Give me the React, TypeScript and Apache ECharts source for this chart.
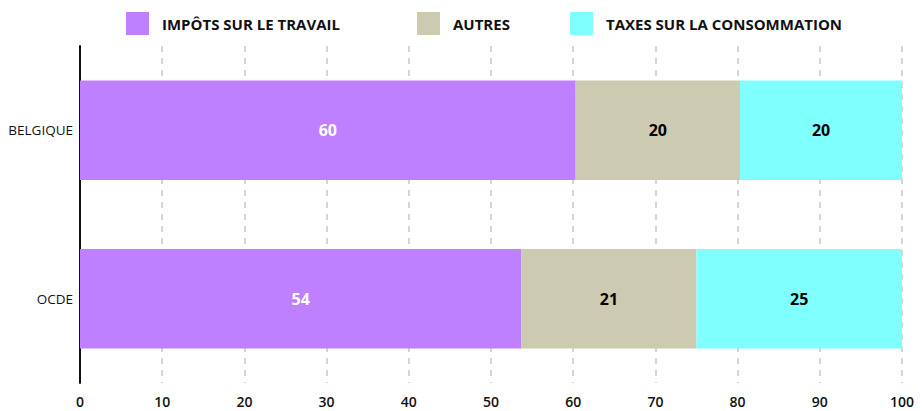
import React, { useEffect, useRef } from "react";
import * as echarts from "echarts";

const categories = ["BELGIQUE", "OCDE"];
const seriesNames = ["IMPÔTS SUR LE TRAVAIL", "AUTRES", "TAXES SUR LA CONSOMMATION"];
const travail = [60.3, 53.7];
const autres = [20, 21.3];
const consommation = [19.7, 25];
const travailLabels = [60, 54];
const autresLabels = [20, 21];
const consommationLabels = [20, 25];
const colors = ["#bf80ff", "#cccbb2", "#80ffff"];

export default function App() {
  const ref = useRef<HTMLDivElement>(null);
  useEffect(() => {
    if (!ref.current) return;
    const chart = echarts.init(ref.current, null, { renderer: "svg" });
    const font = "'Open Sans', sans-serif";
    const mkSeries = (name: string, data: number[], labels: number[], color: string, labelColor: string) => ({
      name,
      type: "bar",
      stack: "total",
      data,
      barWidth: "59%",
      itemStyle: { color },
      label: {
        show: true,
        position: "inside",
        formatter: (p: any) => String(labels[p.dataIndex]),
        color: labelColor,
        fontFamily: font,
        fontWeight: "bold",
        fontSize: 16,
      },
    });
    const legendCommon = {
      top: 12,
      padding: 0,
      icon: "rect",
      itemWidth: 23,
      itemHeight: 23,
      itemGap: 14,
      textStyle: { fontFamily: font, fontWeight: "bold", fontSize: 15, color: "#111", padding: [0, 0, 0, 8] },
      selectedMode: false,
    };
    chart.setOption({
      animation: false,
      legend: [
        { ...legendCommon, left: 126, data: [seriesNames[0]] },
        { ...legendCommon, left: 417, data: [seriesNames[1]] },
        { ...legendCommon, left: 570, data: [seriesNames[2]] },
      ],
      grid: { left: 80, right: 20, top: 46, bottom: 28, containLabel: false },
      xAxis: {
        type: "value",
        min: 0,
        max: 100,
        interval: 10,
        axisLine: { show: false },
        axisTick: { show: false },
        splitLine: { show: true, lineStyle: { color: "#c8c8c8", type: [6, 6], width: 1.5 } },
        axisLabel: { color: "#111", fontFamily: font, fontWeight: 600, fontSize: 14, margin: 11 },
      },
      yAxis: {
        type: "category",
        data: categories,
        inverse: true,
        axisLine: { show: true, lineStyle: { color: "#111", width: 2 } },
        axisTick: { show: false },
        axisLabel: { color: "#111", fontFamily: font, fontWeight: 500, fontSize: 13.5, margin: 7 },
      },
      series: [
        mkSeries(seriesNames[0], travail, travailLabels, colors[0], "#ffffff"),
        mkSeries(seriesNames[1], autres, autresLabels, colors[1], "#000000"),
        mkSeries(seriesNames[2], consommation, consommationLabels, colors[2], "#000000"),
      ],
    });
    return () => chart.dispose();
  }, []);
  return <div ref={ref} style={{ width: 922, height: 411, position: "absolute", left: 0, top: 0 }} />;
}
